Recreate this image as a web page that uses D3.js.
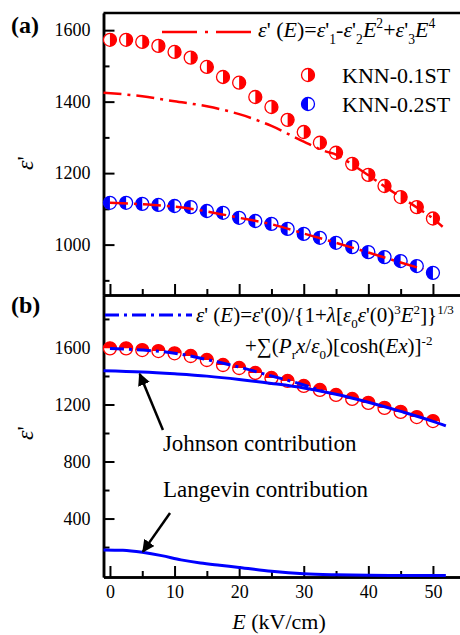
<!DOCTYPE html>
<html>
<head>
<meta charset="utf-8">
<script src="https://cdn.jsdelivr.net/npm/d3@7"></script>
</head>
<body style="margin:0; background:#fff">
<svg id="chart" width="460" height="635"></svg>
<script>
// field values (kV/cm) where the points were measured
const fieldE = [0, 2.5, 5, 7.5, 10, 12.5, 15, 17.5, 20, 22.5, 25, 27.5, 30, 32.5, 35, 37.5, 40, 42.5, 45, 47.5, 50];

// panel (a) data
const knn01 = [1573, 1573, 1567, 1556, 1539, 1523, 1497, 1469, 1453, 1413, 1385, 1349, 1315, 1285, 1257, 1226, 1195, 1164, 1133, 1105, 1073];
const knn02 = [1117, 1117, 1114, 1111, 1108, 1105, 1094, 1089, 1075, 1066, 1058, 1044, 1030, 1019, 1005, 993, 979, 965, 954, 940, 921];

// panel (a) fit curves
const fit01E = [-1, 5, 10, 15, 20, 25, 30, 33.5, 35, 37.5, 40, 42.5, 45, 47.5, 50, 51.5];
const fit01 = [1425, 1415, 1401, 1387, 1365, 1332, 1288, 1260, 1252, 1224, 1194, 1163, 1133, 1104, 1073, 1050];
const fit02E = [0, 5, 10, 15, 20, 25, 30, 35, 40, 45, 48.5];
const fit02 = [1117, 1113, 1106, 1093, 1075, 1057, 1031, 1005, 978, 950, 931];

// panel (b) data
const knn01b = [1594, 1594, 1582, 1575, 1559, 1540, 1512, 1477, 1456, 1421, 1386, 1365, 1330, 1302, 1267, 1239, 1211, 1176, 1148, 1112, 1084];
const totalE = [0, 5, 10, 15, 20, 25, 30, 33];
const total = [1593, 1582, 1560, 1515, 1462, 1400, 1337, 1292];
const johnsonE = [-1, 5, 10, 15, 20, 25, 30, 35, 40, 45, 50, 52];
const johnson = [1437, 1428, 1415, 1399, 1376, 1348, 1316, 1272, 1216, 1152, 1082, 1050];
const langevinE = [-1, 2, 5, 8, 11, 14, 17, 20, 25, 30, 35, 40, 45, 52];
const langevin = [180, 177, 163, 140, 110, 88, 72, 57, 30, 12, 5, 2, 1, 0];

// ticks
const xMajor = [0, 10, 20, 30, 40, 50];
const xMinor = [5, 15, 25, 35, 45];
const yAMajor = [1000, 1200, 1400, 1600];
const yAMinor = [900, 1100, 1300, 1500];
const yBMajor = [400, 800, 1200, 1600];
const yBMinor = [200, 600, 1000, 1400, 1800];

const RED = "#ff0000", BLUE = "#0000ff";
const SERIF = "Liberation Serif";

const svg = d3.select("#chart");

const x = d3.scaleLinear().domain([-1, 56]).range([103.5, 471.7]);
const yA = d3.scaleLinear().domain([859, 1648]).range([295, 13]);
const yB = d3.scaleLinear().domain([-10, 1968]).range([577, 295]);

// axes
function styleAxis(g) {
    g.attr("font-family", SERIF).attr("font-size", 18);
    g.select(".domain").attr("stroke", "#000").attr("stroke-width", 2.5);
    g.selectAll(".tick line").attr("stroke", "#000").attr("stroke-width", 2);
    g.selectAll(".tick text").attr("fill", "#000");
}

svg.append("g").attr("transform", "translate(103.5,0)")
    .call(d3.axisLeft(yA).tickValues(yAMajor).tickSize(-11).tickSizeOuter(0).tickPadding(13).tickFormat(d3.format("d")))
    .call(styleAxis);
svg.append("g").attr("transform", "translate(103.5,0)")
    .call(d3.axisLeft(yA).tickValues(yAMinor).tickSize(-6).tickSizeOuter(0).tickFormat(""))
    .call(styleAxis);
svg.append("g").attr("transform", "translate(103.5,0)")
    .call(d3.axisLeft(yB).tickValues(yBMajor).tickSize(-11).tickSizeOuter(0).tickPadding(13).tickFormat(d3.format("d")))
    .call(styleAxis);
svg.append("g").attr("transform", "translate(103.5,0)")
    .call(d3.axisLeft(yB).tickValues(yBMinor).tickSize(-6).tickSizeOuter(0).tickFormat(""))
    .call(styleAxis);

svg.append("g").attr("transform", "translate(0,295)")
    .call(d3.axisBottom(x).tickValues(xMajor).tickSize(-11).tickSizeOuter(0).tickFormat(""))
    .call(styleAxis);
svg.append("g").attr("transform", "translate(0,295)")
    .call(d3.axisBottom(x).tickValues(xMinor).tickSize(-6).tickSizeOuter(0).tickFormat(""))
    .call(styleAxis);
svg.append("g").attr("transform", "translate(0,577)")
    .call(d3.axisBottom(x).tickValues(xMajor).tickSize(-11).tickSizeOuter(0).tickPadding(8).tickFormat(d3.format("d")))
    .call(styleAxis);
svg.append("g").attr("transform", "translate(0,577)")
    .call(d3.axisBottom(x).tickValues(xMinor).tickSize(-6).tickSizeOuter(0).tickFormat(""))
    .call(styleAxis);

// top frame of panel (a)
svg.append("line")
    .attr("x1", 103.5).attr("x2", 471.7).attr("y1", 13).attr("y2", 13)
    .attr("stroke", "#000").attr("stroke-width", 2.5);

// half filled markers
const R = 6.5;
function halfPath(cx, cy, side) {
    if (side === "right") return `M${cx},${cy - R}A${R},${R} 0 0 1 ${cx},${cy + R}Z`;
    if (side === "left") return `M${cx},${cy - R}A${R},${R} 0 0 0 ${cx},${cy + R}Z`;
    return `M${cx - R},${cy}A${R},${R} 0 0 1 ${cx + R},${cy}Z`;
}
function drawMarkers(vals, yScale, color, side) {
    const g = svg.append("g");
    const pts = g.selectAll("g").data(fieldE.map((e, i) => ({ e: e, v: vals[i] })))
        .enter().append("g");
    pts.append("circle")
        .attr("cx", d => x(d.e)).attr("cy", d => yScale(d.v)).attr("r", R)
        .attr("fill", "#fff").attr("stroke", color).attr("stroke-width", 1.3);
    pts.append("path")
        .attr("d", d => halfPath(x(d.e), yScale(d.v), side))
        .attr("fill", color);
}
function legendMarker(cx, cy, color, side) {
    svg.append("circle").attr("cx", cx).attr("cy", cy).attr("r", R)
        .attr("fill", "#fff").attr("stroke", color).attr("stroke-width", 1.3);
    svg.append("path").attr("d", halfPath(cx, cy, side)).attr("fill", color);
}

function drawCurve(es, vs, yScale, color, width, dash) {
    const line = d3.line().x(d => x(d[0])).y(d => yScale(d[1])).curve(d3.curveMonotoneX);
    const p = svg.append("path")
        .attr("d", line(es.map((e, i) => [e, vs[i]])))
        .attr("fill", "none").attr("stroke", color).attr("stroke-width", width);
    if (dash) p.attr("stroke-dasharray", dash);
}

// rich text with italic / sub / sup parts
function richText(px, py, size, parts) {
    const t = svg.append("text").attr("x", px).attr("y", py).attr("font-size", size).attr("font-family", SERIF);
    let shift = 0;
    parts.forEach(([s, k]) => {
        let target = 0;
        if (k === "sub") target = size * 0.3;
        if (k === "sup") target = -size * 0.4;
        const ts = t.append("tspan").attr("dy", target - shift).text(s);
        shift = target;
        if (k === "sub" || k === "sup") ts.attr("font-size", size * 0.62);
        if (k === "i") ts.attr("font-style", "italic");
    });
    return t;
}
function plainText(px, py, size, s) {
    return svg.append("text").attr("x", px).attr("y", py).attr("font-size", size)
        .attr("font-family", SERIF).text(s);
}

// ---- panel (a)
drawMarkers(knn01, yA, RED, "right");
drawMarkers(knn02, yA, BLUE, "left");
drawCurve(fit01E, fit01, yA, RED, 2.5, "18,6,3,6");
drawCurve(fit02E, fit02, yA, RED, 2.5, "18,6,3,6");

svg.append("line").attr("x1", 162).attr("x2", 252).attr("y1", 32).attr("y2", 32)
    .attr("stroke", RED).attr("stroke-width", 2.5).attr("stroke-dasharray", "35,8,3,8");
richText(258, 37, 22, [["ε", "i"], ["' (", "n"], ["E", "i"], [")=", "n"], ["ε", "i"], ["'", "n"], ["1", "sub"],
    ["-", "n"], ["ε", "i"], ["'", "n"], ["2", "sub"], ["E", "i"], ["2", "sup"], ["+", "n"],
    ["ε", "i"], ["'", "n"], ["3", "sub"], ["E", "i"], ["4", "sup"]]);

legendMarker(308, 75, RED, "right");
plainText(342, 83, 22, "KNN-0.1ST");
legendMarker(308, 104, BLUE, "left");
plainText(342, 112, 22, "KNN-0.2ST");

// ---- panel (b)
drawMarkers(knn01b, yB, RED, "top");
drawCurve(totalE, total, yB, BLUE, 3, "14,5,3,5");
drawCurve(johnsonE, johnson, yB, BLUE, 3, null);
drawCurve(langevinE, langevin, yB, BLUE, 3, null);

svg.append("line").attr("x1", 105).attr("x2", 192).attr("y1", 315).attr("y2", 315)
    .attr("stroke", BLUE).attr("stroke-width", 3).attr("stroke-dasharray", "14,5,3,5");
richText(196, 322, 21, [["ε", "i"], ["' (", "n"], ["E", "i"], [")=", "n"], ["ε", "i"], ["'(0)/{1+", "n"],
    ["λ", "i"], ["[", "n"], ["ε", "i"], ["0", "sub"], ["ε", "i"], ["'(0)", "n"], ["3", "sup"],
    ["E", "i"], ["2", "sup"], ["]}", "n"], ["1/3", "sup"]]);
richText(245, 353, 21, [["+∑(", "n"], ["P", "i"], ["r", "sub"], ["x", "i"], ["/", "n"], ["ε", "i"],
    ["0", "sub"], [")[cosh(", "n"], ["Ex", "i"], [")]", "n"], ["-2", "sup"]]);

// annotations with arrows
svg.append("defs").append("marker")
    .attr("id", "arrow").attr("viewBox", "0 0 10 10").attr("refX", 9).attr("refY", 5)
    .attr("markerWidth", 5).attr("markerHeight", 5).attr("markerUnits", "strokeWidth")
    .attr("orient", "auto")
    .append("path").attr("d", "M0,0L10,5L0,10Z").attr("fill", "#000");

const notes = [
    { label: "Johnson contribution", tx: 8.2, tv: 874, from: [8.2, 1021], to: [4.6, 1414] },
    { label: "Langevin contribution", tx: 8.2, tv: 551, from: [9.3, 439], to: [5.1, 168] }
];
notes.forEach(n => {
    svg.append("line")
        .attr("x1", x(n.from[0])).attr("y1", yB(n.from[1]))
        .attr("x2", x(n.to[0])).attr("y2", yB(n.to[1]))
        .attr("stroke", "#000").attr("stroke-width", 2.5).attr("marker-end", "url(#arrow)");
    plainText(x(n.tx), yB(n.tv), 23, n.label);
});

// panel labels and axis titles
plainText(11, 33, 24, "(a)").attr("font-weight", "bold");
plainText(11, 313, 24, "(b)").attr("font-weight", "bold");

[163, 433].forEach(cy => {
    svg.append("text")
        .attr("transform", `translate(33,${cy}) rotate(-90)`)
        .attr("text-anchor", "middle").attr("font-size", 24).attr("font-family", SERIF)
        .call(t => {
            t.append("tspan").attr("font-style", "italic").text("ε");
            t.append("tspan").text("'");
        });
});

const xt = svg.append("text").attr("x", 279).attr("y", 629).attr("text-anchor", "middle")
    .attr("font-size", 22).attr("font-family", SERIF);
xt.append("tspan").attr("font-style", "italic").text("E");
xt.append("tspan").text(" (kV/cm)");
</script>
</body>
</html>
